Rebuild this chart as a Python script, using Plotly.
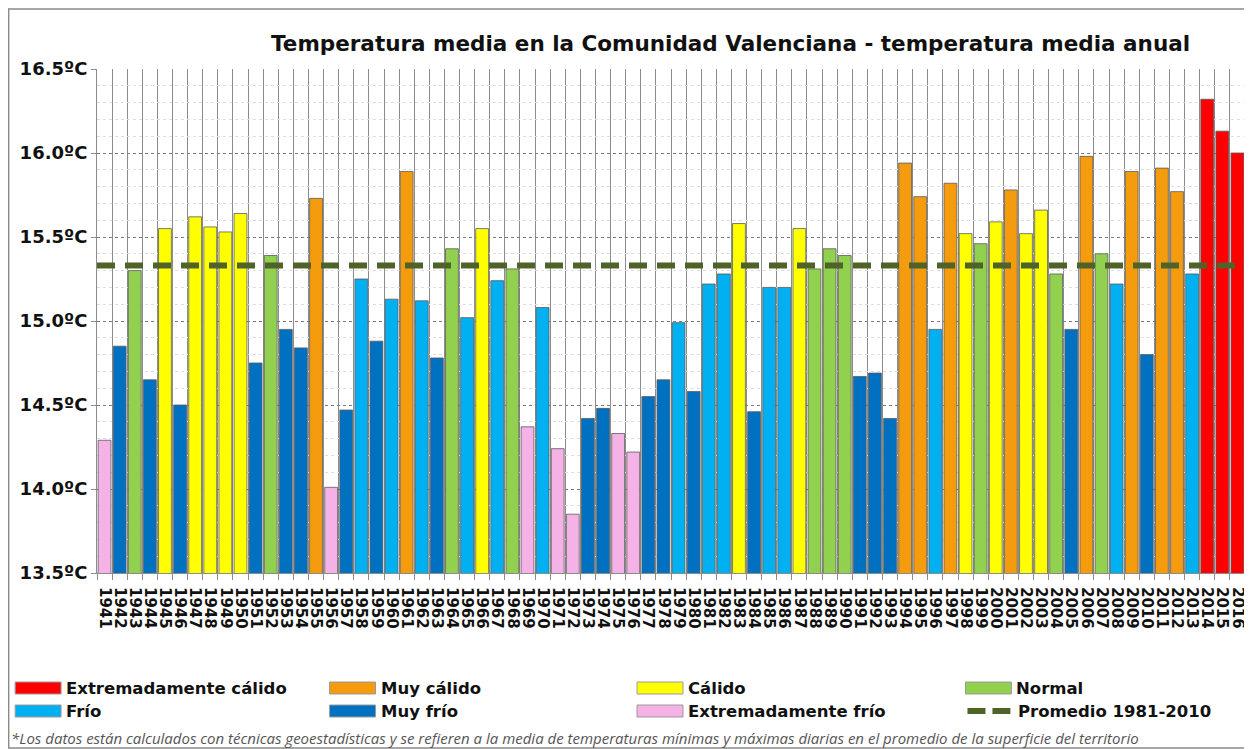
import plotly.graph_objects as go

# ---------------- data ----------------
years = list(range(1941, 2017))
temps = [
    14.29, 14.85, 15.30, 14.65, 15.55, 14.50, 15.62, 15.56, 15.53, 15.64,   # 1941-1950
    14.75, 15.39, 14.95, 14.84, 15.73, 14.01, 14.47, 15.25, 14.88, 15.13,   # 1951-1960
    15.89, 15.12, 14.78, 15.43, 15.02, 15.55, 15.24, 15.31, 14.37, 15.08,   # 1961-1970
    14.24, 13.85, 14.42, 14.48, 14.33, 14.22, 14.55, 14.65, 14.99, 14.58,   # 1971-1980
    15.22, 15.28, 15.58, 14.46, 15.20, 15.20, 15.55, 15.31, 15.43, 15.39,   # 1981-1990
    14.67, 14.69, 14.42, 15.94, 15.74, 14.95, 15.82, 15.52, 15.46, 15.59,   # 1991-2000
    15.78, 15.52, 15.66, 15.28, 14.95, 15.98, 15.40, 15.22, 15.89, 14.80,   # 2001-2010
    15.91, 15.77, 15.28, 16.32, 16.13, 16.00,                               # 2011-2016
]
classes = [
    "EF", "MF", "N", "MF", "C", "MF", "C", "C", "C", "C",
    "MF", "N", "MF", "MF", "MC", "EF", "MF", "F", "MF", "F",
    "MC", "F", "MF", "N", "F", "C", "F", "N", "EF", "F",
    "EF", "EF", "MF", "MF", "EF", "EF", "MF", "MF", "F", "MF",
    "F", "F", "C", "MF", "F", "F", "C", "N", "N", "N",
    "MF", "MF", "MF", "MC", "MC", "F", "MC", "C", "N", "C",
    "MC", "C", "C", "N", "MF", "MC", "N", "F", "MC", "MF",
    "MC", "MC", "F", "EC", "EC", "EC",
]
average_1981_2010 = 15.33

class_codes = ["EC", "MC", "C", "N", "F", "MF", "EF"]
class_labels = ["Extremadamente cálido", "Muy cálido", "Cálido", "Normal",
                "Frío", "Muy frío", "Extremadamente frío"]
avg_label = "Promedio 1981-2010"
title_text = "Temperatura media en la Comunidad Valenciana - temperatura media anual"
footnote = ("*Los datos están calculados con técnicas geoestadísticas y se refieren a la media de "
            "temperaturas mínimas y máximas diarias en el promedio de la superficie del territorio")

# ---------------- styles ----------------
COLORS = {
    "EC": "#FF0000", "MC": "#F59B0E", "C": "#FFFF00", "N": "#92D050",
    "F": "#00B0F0", "MF": "#0070C0", "EF": "#F4B2E6",
}
AVG_COLOR = "#4F6228"
OFF = 8                      # page body margin offset
W, H = 1252 - OFF, 749 - OFF
# plot area in reference pixels: x 97..1247, y 69..573
ML, MT = 97 - OFF, 69 - OFF
MR = W - (1247 - OFF)
MB = H - (573 - OFF)
PW, PH = W - ML - MR, H - MT - MB
BOLD = dict(family="DejaVu Sans", weight="bold", color="#111111")


def px(xr):
    """reference x pixel -> paper coordinate"""
    return (xr - OFF - ML) / PW


def py(yr):
    """reference y pixel -> paper coordinate"""
    return (H - MB - (yr - OFF)) / PH


fig = go.Figure()
fig.add_bar(
    x=years, y=temps,
    marker=dict(color=[COLORS[c] for c in classes],
                line=dict(color="#5a5a5a", width=0.8)),
    width=0.85, showlegend=False,
)
fig.add_scatter(
    x=[years[0] - 0.5, years[-1] + 0.5],
    y=[average_1981_2010, average_1981_2010],
    mode="lines", line=dict(color=AVG_COLOR, width=6, dash="18px,10px"),
    showlegend=False,
)

# ---------------- legend (manual, 4 columns x 2 rows) ----------------
shapes = []
annotations = []
col_sw = [15, 330, 638, 967]
row_y = [688, 711]
for i, (code, label) in enumerate(zip(class_codes, class_labels)):
    r, c = divmod(i, 4)
    x0 = col_sw[c]
    yc = row_y[r]
    shapes.append(dict(type="rect", xref="paper", yref="paper",
                       x0=px(x0), x1=px(x0 + 46), y0=py(yc + 6), y1=py(yc - 6),
                       fillcolor=COLORS[code], line=dict(color="#9a9a9a", width=1)))
    annotations.append(dict(text=label, xref="paper", yref="paper",
                            x=px(x0 + 49), y=py(yc), xanchor="left", yanchor="middle",
                            showarrow=False, font=dict(size=16.5, **BOLD)))
# average legend entry
x0 = col_sw[3]
yc = row_y[1]
for a, b in [(x0 + 2, x0 + 20), (x0 + 27, x0 + 45)]:
    shapes.append(dict(type="line", xref="paper", yref="paper",
                       x0=px(a), x1=px(b), y0=py(yc), y1=py(yc),
                       line=dict(color=AVG_COLOR, width=6)))
annotations.append(dict(text=avg_label, xref="paper", yref="paper",
                        x=px(x0 + 51), y=py(yc), xanchor="left", yanchor="middle",
                        showarrow=False, font=dict(size=16.5, **BOLD)))
# title
annotations.append(dict(text=title_text, xref="paper", yref="paper",
                        x=px(732), y=py(44), xanchor="center", yanchor="middle",
                        showarrow=False, font=dict(size=21.5, **BOLD)))
# footnote
annotations.append(dict(text=footnote, xref="paper", yref="paper",
                        x=px(9), y=py(738), xanchor="left", yanchor="middle",
                        showarrow=False,
                        font=dict(family="Open Sans", size=15, style="italic", color="#555555")))
# outer frame
shapes.append(dict(type="rect", xref="paper", yref="paper",
                   x0=px(8.5), x1=px(1250), y0=py(748), y1=py(9),
                   line=dict(color="#8a8a8a", width=1.5), fillcolor="rgba(0,0,0,0)",
                   layer="below"))

fig.update_layout(
    width=W, height=H, autosize=False,
    margin=dict(l=ML, r=MR, t=MT, b=MB),
    paper_bgcolor="white", plot_bgcolor="white",
    bargap=0.15,
    shapes=shapes, annotations=annotations,
    xaxis=dict(
        range=[years[0] - 0.5, years[-1] + 0.5],
        tickmode="array", tickvals=years, ticktext=[str(y) for y in years],
        tickangle=90, tickfont=dict(size=15, **BOLD),
        ticks="", ticklabelstandoff=10,
        showgrid=False, zeroline=False,
        showline=True, linecolor="#8c8c8c", linewidth=1,
        minor=dict(tickmode="linear", tick0=years[0] - 0.5, dtick=1,
                   showgrid=True, gridcolor="#8c8c8c", gridwidth=1,
                   ticks="outside", ticklen=6, tickcolor="#8c8c8c"),
    ),
    yaxis=dict(
        range=[13.5, 16.5], tickmode="linear", tick0=13.5, dtick=0.5,
        tickformat=".1f", ticksuffix="ºC",
        tickfont=dict(size=18, **BOLD),
        ticks="outside", ticklen=5, tickcolor="#8c8c8c",
        showgrid=True, gridcolor="#7a7a7a", griddash="dot", gridwidth=1,
        zeroline=False, showline=True, linecolor="#8c8c8c", linewidth=1,
        minor=dict(dtick=0.1, showgrid=True, gridcolor="#dedede", gridwidth=1),
    ),
)

fig.write_html("out.html")
